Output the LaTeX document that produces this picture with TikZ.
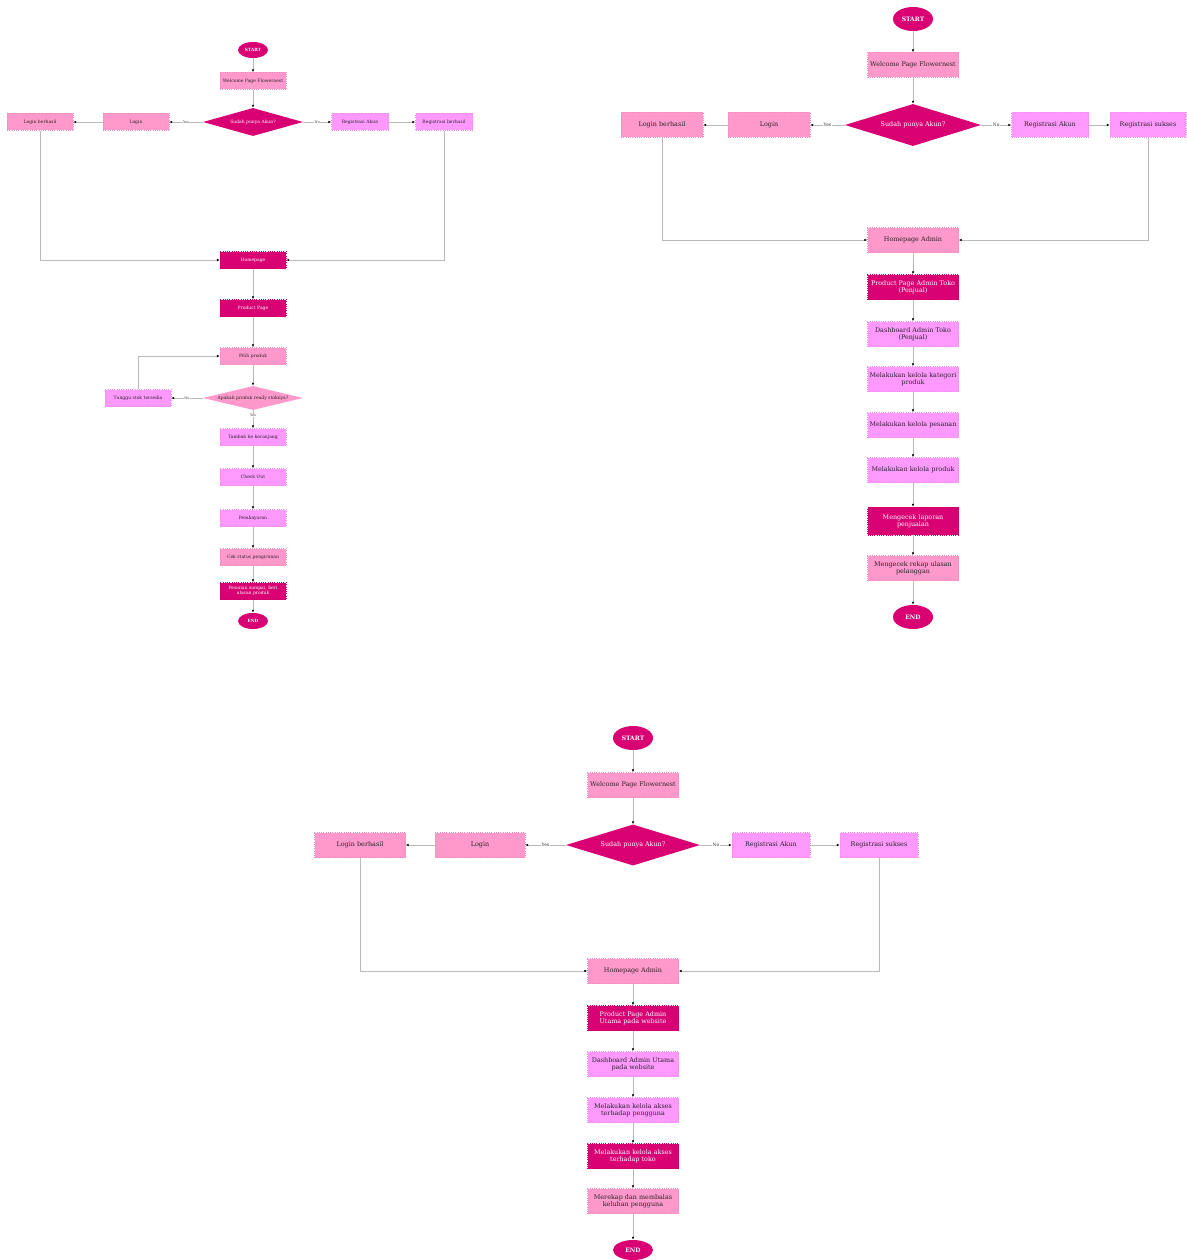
\documentclass[tikz,border=0pt]{standalone}
\usepackage{fontspec}
\setmainfont{DejaVu Serif}
\usepackage{xcolor}
\usetikzlibrary{shapes.geometric, arrows.meta, positioning}
\definecolor{magdark}{RGB}{216,0,115}
\definecolor{pinklight}{RGB}{255,153,204}
\definecolor{violetlight}{RGB}{255,153,255}

\begin{document}
\begin{tikzpicture}[
    x=1pt, y=-1pt,
    base/.style={rectangle, draw=#1!92!black, dotted, line width=0.25pt, fill=#1, text=black!85, align=center, inner sep=0.5pt},
    dark/.style={base=magdark, text=white},
    pink/.style={base=pinklight},
    violet/.style={base=violetlight},
    sm/.style={font=\fontsize{4.5}{5.2}\selectfont, minimum width=66pt, minimum height=17pt, text width=64pt},
    lg/.style={font=\fontsize{6.4}{7.4}\selectfont, minimum width=91pt, minimum height=25pt, text width=89pt},
    term/.style={ellipse, fill=magdark, text=white, inner sep=0pt},
    decision/.style={diamond, aspect=4, inner sep=0pt, align=center},
    arrow/.style={draw=gray!55, line width=0.6pt, -{Latex[length=3pt,width=2.4pt,color=black]}},
    lbl/.style={fill=white, inner sep=0.5pt, text=black!80}
]
    \useasboundingbox (0,0) rectangle (1186,1260);

    % left: customer flow
    \node [term, minimum width=30pt, minimum height=16pt, font=\bfseries\fontsize{4.3}{5}\selectfont] (Lstart) at (253,50) {START};
    \node [pink, sm] (Lwelcome) at (253,81) {Welcome Page Flowernest};
    \node [decision, fill=magdark, text=white, minimum width=100pt, minimum height=28pt, font=\fontsize{4.5}{5}\selectfont] (Lakun) at (253,122) {Sudah punya Akun?};
    \node [pink, sm] (Llogin) at (136,122) {Login};
    \node [pink, sm] (Lberhasil) at (40,122) {Login berhasil};
    \node [violet, sm, minimum width=57pt, text width=56pt] (Lreg) at (360,122) {Registrasi Akun};
    \node [violet, sm, minimum width=57pt, text width=56pt] (Lregok) at (444,122) {Registrasi berhasil};
    \node [dark, sm] (Lhome) at (253,260) {Homepage};
    \node [dark, sm] (Lproduct) at (253,308) {Product Page};
    \node [pink, sm] (Lpilih) at (253,356) {Pilih produk};
    \node [decision, fill=pinklight, text=black!85, minimum width=100pt, minimum height=24pt, font=\fontsize{4.5}{5}\selectfont] (Lstok) at (253,398) {Apakah produk ready stoknya?};
    \node [violet, sm] (Ltunggu) at (138,398) {Tunggu stok tersedia};
    \node [violet, sm] (Ltambah) at (253,437) {Tambah ke keranjang};
    \node [violet, sm] (Lcheckout) at (253,477) {Check Out};
    \node [violet, sm] (Lbayar) at (253,518) {Pembayaran};
    \node [pink, sm] (Lcek) at (253,557) {Cek status pengiriman};
    \node [dark, sm] (Lulasan) at (253,591) {Pesanan sampai, beri\\ulasan produk};
    \node [term, minimum width=30pt, minimum height=16pt, font=\bfseries\fontsize{4.3}{5}\selectfont] (Lend) at (253,621) {END};

    \draw [arrow] (Lstart) -- (Lwelcome);
    \draw [arrow] (Lwelcome) -- (Lakun);
    \draw [arrow] (Lakun) -- node[lbl, font=\fontsize{3.5}{4}\selectfont] {Yes} (Llogin);
    \draw [arrow] (Llogin) -- (Lberhasil);
    \draw [arrow] (Lakun) -- node[lbl, font=\fontsize{3.5}{4}\selectfont] {No} (Lreg);
    \draw [arrow] (Lreg) -- (Lregok);
    \draw [arrow] (Lberhasil) |- (Lhome);
    \draw [arrow] (Lregok) |- (Lhome);
    \draw [arrow] (Lhome) -- (Lproduct);
    \draw [arrow] (Lproduct) -- (Lpilih);
    \draw [arrow] (Lpilih) -- (Lstok);
    \draw [arrow] (Lstok) -- node[lbl, font=\fontsize{3.5}{4}\selectfont] {No} (Ltunggu);
    \draw [arrow] (Ltunggu) |- (Lpilih);
    \draw [arrow] (Lstok) -- node[lbl, pos=0.3, font=\fontsize{3.5}{4}\selectfont] {Yes} (Ltambah);
    \draw [arrow] (Ltambah) -- (Lcheckout);
    \draw [arrow] (Lcheckout) -- (Lbayar);
    \draw [arrow] (Lbayar) -- (Lcek);
    \draw [arrow] (Lcek) -- (Lulasan);
    \draw [arrow] (Lulasan) -- (Lend);

    % right: admin toko flow
    \node [term, minimum width=40pt, minimum height=24pt, font=\bfseries\fontsize{6}{7}\selectfont] (Rstart) at (913,19) {START};
    \node [pink, lg] (Rwelcome) at (913,65) {Welcome Page Flowernest};
    \node [decision, fill=magdark, text=white, minimum width=136pt, minimum height=42pt, font=\fontsize{6.4}{7}\selectfont] (Rakun) at (913,125) {Sudah punya Akun?};
    \node [pink, lg, minimum width=82pt, text width=80pt] (Rlogin) at (769,125) {Login};
    \node [pink, lg, minimum width=82pt, text width=80pt] (Rberhasil) at (662,125) {Login berhasil};
    \node [violet, lg, minimum width=77pt, text width=76pt] (Rreg) at (1050,125) {Registrasi Akun};
    \node [violet, lg, minimum width=76pt, text width=75pt] (Rregok) at (1148,125) {Registrasi sukses};
    \node [pink, lg] (Rhome) at (913,240) {Homepage Admin};
    \node [dark, lg] (Rproduct) at (913,287) {Product Page Admin Toko\\(Penjual)};
    \node [violet, lg] (Rdash) at (913,334) {Dashboard Admin Toko\\(Penjual)};
    \node [violet, lg] (Rkategori) at (913,379) {Melakukan kelola kategori\\produk};
    \node [violet, lg] (Rpesanan) at (913,425) {Melakukan kelola pesanan};
    \node [violet, lg] (Rproduk) at (913,470) {Melakukan kelola produk};
    \node [dark, lg, minimum height=28pt] (Rlaporan) at (913,521) {Mengecek laporan\\penjualan};
    \node [pink, lg] (Rrekap) at (913,568) {Mengecek rekap ulasan\\pelanggan};
    \node [term, minimum width=40pt, minimum height=24pt, font=\bfseries\fontsize{6}{7}\selectfont] (Rend) at (913,617) {END};

    \draw [arrow] (Rstart) -- (Rwelcome);
    \draw [arrow] (Rwelcome) -- (Rakun);
    \draw [arrow] (Rakun) -- node[lbl, font=\fontsize{4.5}{5}\selectfont] {Yes} (Rlogin);
    \draw [arrow] (Rlogin) -- (Rberhasil);
    \draw [arrow] (Rakun) -- node[lbl, font=\fontsize{4.5}{5}\selectfont] {No} (Rreg);
    \draw [arrow] (Rreg) -- (Rregok);
    \draw [arrow] (Rberhasil) |- (Rhome);
    \draw [arrow] (Rregok) |- (Rhome);
    \draw [arrow] (Rhome) -- (Rproduct);
    \draw [arrow] (Rproduct) -- (Rdash);
    \draw [arrow] (Rdash) -- (Rkategori);
    \draw [arrow] (Rkategori) -- (Rpesanan);
    \draw [arrow] (Rpesanan) -- (Rproduk);
    \draw [arrow] (Rproduk) -- (Rlaporan);
    \draw [arrow] (Rlaporan) -- (Rrekap);
    \draw [arrow] (Rrekap) -- (Rend);

    % bottom: admin utama flow
    \node [term, minimum width=40pt, minimum height=24pt, font=\bfseries\fontsize{6}{7}\selectfont] (Bstart) at (633,738) {START};
    \node [pink, lg] (Bwelcome) at (633,785) {Welcome Page Flowernest};
    \node [decision, fill=magdark, text=white, minimum width=134pt, minimum height=41pt, font=\fontsize{6.4}{7}\selectfont] (Bakun) at (633,845) {Sudah punya Akun?};
    \node [pink, lg, minimum width=90pt, text width=88pt] (Blogin) at (480,845) {Login};
    \node [pink, lg] (Bberhasil) at (360,845) {Login berhasil};
    \node [violet, lg, minimum width=78pt, text width=77pt] (Breg) at (771,845) {Registrasi Akun};
    \node [violet, lg, minimum width=78pt, text width=77pt] (Bregok) at (879,845) {Registrasi sukses};
    \node [pink, lg] (Bhome) at (633,971) {Homepage Admin};
    \node [dark, lg] (Bproduct) at (633,1018) {Product Page Admin\\Utama pada website};
    \node [violet, lg] (Bdash) at (633,1064) {Dashboard Admin Utama\\pada website};
    \node [violet, lg] (Bpengguna) at (633,1110) {Melakukan kelola akses\\terhadap pengguna};
    \node [dark, lg] (Btoko) at (633,1156) {Melakukan kelola akses\\terhadap toko};
    \node [pink, lg] (Bkeluhan) at (633,1201) {Merekap dan membalas\\keluhan pengguna};
    \node [term, minimum width=40pt, minimum height=20pt, font=\bfseries\fontsize{6}{7}\selectfont] (Bend) at (633,1250) {END};

    \draw [arrow] (Bstart) -- (Bwelcome);
    \draw [arrow] (Bwelcome) -- (Bakun);
    \draw [arrow] (Bakun) -- node[lbl, font=\fontsize{4.5}{5}\selectfont] {Yes} (Blogin);
    \draw [arrow] (Blogin) -- (Bberhasil);
    \draw [arrow] (Bakun) -- node[lbl, font=\fontsize{4.5}{5}\selectfont] {No} (Breg);
    \draw [arrow] (Breg) -- (Bregok);
    \draw [arrow] (Bberhasil) |- (Bhome);
    \draw [arrow] (Bregok) |- (Bhome);
    \draw [arrow] (Bhome) -- (Bproduct);
    \draw [arrow] (Bproduct) -- (Bdash);
    \draw [arrow] (Bdash) -- (Bpengguna);
    \draw [arrow] (Bpengguna) -- (Btoko);
    \draw [arrow] (Btoko) -- (Bkeluhan);
    \draw [arrow] (Bkeluhan) -- (Bend);
\end{tikzpicture}
\end{document}
